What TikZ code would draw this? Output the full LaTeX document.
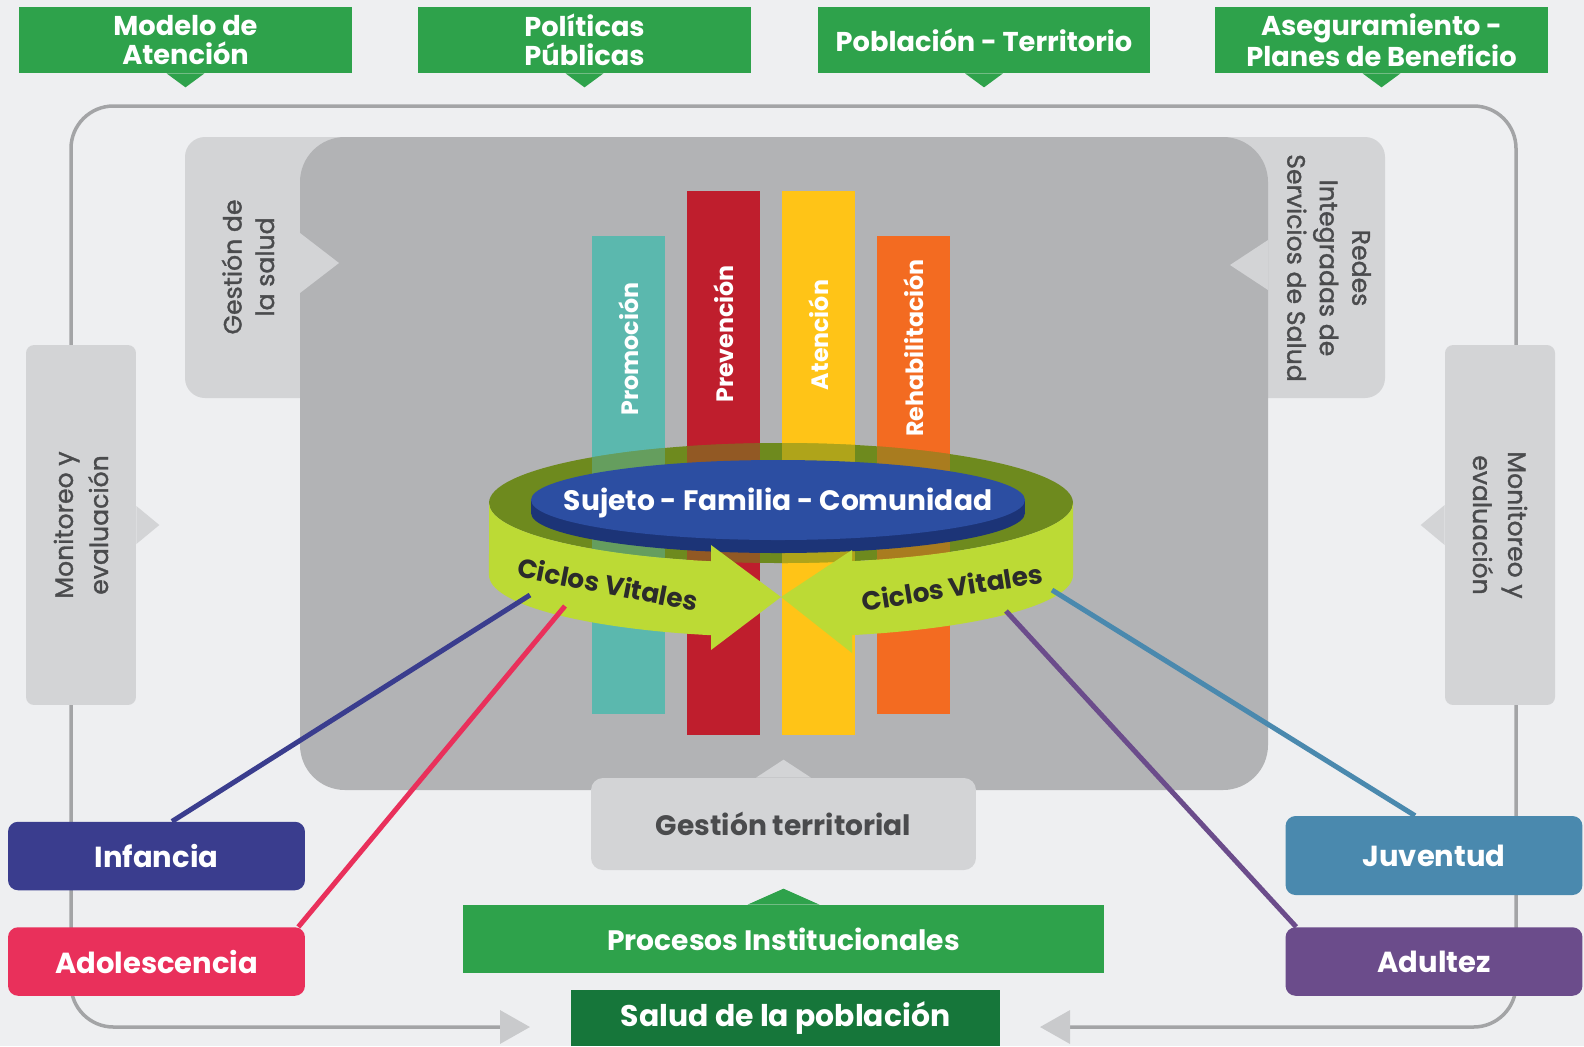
\documentclass[tikz,border=0pt]{standalone}
\usepackage{fontspec}
\setmainfont{Poppins}
\newfontfamily\poppinsmed[FakeBold=1.3]{Poppins}
\usetikzlibrary{arrows.meta}
\begin{document}
\begin{tikzpicture}[x=0.02cm,y=0.02cm,
	topbox/.style={fill=topgreen,text=white,font=\bfseries\fontsize{15.5}{16.5}\selectfont,align=center,minimum width=6.66cm,minimum height=1.32cm,inner sep=0pt},
	sidebox/.style={fill=sidegray,rounded corners=0.16cm,text=textgray,font=\poppinsmed\fontsize{14.3}{20}\selectfont,align=center,inner sep=0pt},
	sidetext/.style={text=textgray,font=\poppinsmed\fontsize{14.3}{18.5}\selectfont,align=center},
	bartext/.style={text=white,font=\bfseries\fontsize{13.5}{15}\selectfont,rotate=90},
	agebox/.style={rounded corners=0.2cm,text=white,font=\bfseries\fontsize{16.5}{18}\selectfont,minimum width=5.94cm,minimum height=1.37cm,inner sep=0pt},
	ageline/.style={line width=0.1cm},
	ciclos/.style={text=ciclostext,font=\bfseries\fontsize{15}{17}\selectfont,inner sep=0pt}]
		\definecolor{bg}{HTML}{EEEFF1}
		\definecolor{topgreen}{HTML}{2EA24B}
		\definecolor{darkgreen}{HTML}{16763A}
		\definecolor{framegray}{HTML}{A3A4A6}
		\definecolor{arrowgray}{HTML}{C9CACC}
		\definecolor{sidegray}{HTML}{D3D4D6}
		\definecolor{boxgray}{HTML}{B2B3B5}
		\definecolor{textgray}{HTML}{4A4B4D}
		\definecolor{teal1}{HTML}{5BB8AE}
		\definecolor{red1}{HTML}{BF1E2D}
		\definecolor{yellow1}{HTML}{FFC417}
		\definecolor{orange1}{HTML}{F36B21}
		\definecolor{olive1}{HTML}{6E8A1E}
		\definecolor{lime1}{HTML}{BCDA35}
		\definecolor{blue1}{HTML}{2C4EA2}
		\definecolor{bluerim}{HTML}{1C3477}
		\definecolor{ciclostext}{HTML}{2B2B2B}
		\definecolor{infancia1}{HTML}{3A3D8E}
		\definecolor{adol1}{HTML}{E9305B}
		\definecolor{juventud1}{HTML}{4A89AE}
		\definecolor{adultez1}{HTML}{6B4C8B}
		\useasboundingbox (0,0) rectangle (1584,-1046);
		\fill[bg] (0,0) rectangle (1584,-1046);
		\node[topbox] (modelo) at (185.5,-40) {Modelo de\\Atención};
		\node[topbox] (politicas) at (584.5,-40) {Políticas\\Públicas};
		\node[topbox] (poblacion) at (984,-40) {Población - Territorio};
		\node[topbox] (aseguramiento) at (1381.5,-40) {Aseguramiento -\\Planes de Beneficio};
		\foreach \n in {modelo,politicas,poblacion,aseguramiento}{
				\fill[topgreen] ([xshift=-0.38cm]\n.south) -- ([xshift=0.38cm]\n.south) -- ([yshift=-0.28cm]\n.south) -- cycle;
			}
		\draw[framegray,line width=0.07cm,rounded corners=0.85cm,{Triangle[length=0.6cm,width=0.66cm,color=arrowgray]}-{Triangle[length=0.6cm,width=0.66cm,color=arrowgray]}]
		(530,-1027) -| (71,-106) -| (1516,-1027) -- (1040,-1027);
		\node[sidebox,rotate=90,minimum width=7.2cm,minimum height=2.2cm] (monitoreoL) at (81,-525) {Monitoreo y\\evaluación};
		\fill[sidegray] ([yshift=0.38cm]monitoreoL.south) -- ([xshift=0.46cm]monitoreoL.south) -- ([yshift=-0.38cm]monitoreoL.south) -- cycle;
		\node[sidebox,rotate=-90,minimum width=7.2cm,minimum height=2.2cm] (monitoreoR) at (1500,-525) {Monitoreo y\\evaluación};
		\fill[sidegray] ([yshift=0.4cm]monitoreoR.south) -- ([xshift=-0.48cm]monitoreoR.south) -- ([yshift=-0.4cm]monitoreoR.south) -- cycle;
		\fill[sidegray,rounded corners=0.4cm] (185,-137) rectangle (360,-398);
		\fill[sidegray,rounded corners=0.4cm] (1210,-137) rectangle (1385,-398);
		\fill[boxgray,rounded corners=0.9cm] (300,-137) rectangle (1268,-790);
		\fill[sidegray] (300,-233) -- (339,-263) -- (300,-293) -- cycle;
		\fill[sidegray] (1268,-240) -- (1230,-265) -- (1268,-290) -- cycle;
		\node[sidetext,rotate=90] (gestionsalud) at (248,-267) {Gestión de\\la salud};
		\node[sidetext,rotate=-90] (redes) at (1329,-268) {Redes\\Integradas de\\Servicios de Salud};
		\foreach \x/\t/\b/\c in {592/236/714/teal1,687/191/735/red1,782/191/735/yellow1,877/236/714/orange1}{
				\fill[\c] (\x,-\t) rectangle ++(73,\t-\b);
			}
		\node[bartext] (promocion) at (628.5,-349) {Promoción};
		\node[bartext] (prevencion) at (723.5,-334) {Prevención};
		\node[bartext] (atencion) at (818.5,-335) {Atención};
		\node[bartext] (rehabilitacion) at (913.5,-348) {Rehabilitación};
		\fill[olive1] (781,-503) ellipse [x radius=292,y radius=60];
		\begin{scope}
			\clip (781,-503) ellipse [x radius=292,y radius=60];
			\foreach \x/\c in {592/teal1,687/red1,782/yellow1,877/orange1}{
					\fill[\c,opacity=0.45] (\x,-180) rectangle ++(73,-400);
				}
		\end{scope}
		\fill[bluerim] (778,-513) ellipse [x radius=247,y radius=40];
		\fill[bluerim] (531,-500) rectangle (1025,-513);
		\fill[blue1] (778,-500) ellipse [x radius=247,y radius=40];
		\node[text=white,font=\bfseries\fontsize{16}{18}\selectfont,inner sep=0pt] (sujeto) at (778,-503) {Sujeto - Familia - Comunidad};
		\fill[lime1] (489,-503) arc[start angle=180,end angle=256.13,x radius=292,y radius=60]
		-- (711,-545) -- (781,-597) -- (711,-650) -- (711,-635.2)
		arc[start angle=256.13,end angle=180,x radius=292,y radius=62] -- cycle;
		\fill[lime1] (1073,-503) arc[start angle=360,end angle=284.07,x radius=292,y radius=60]
		-- (852,-550) -- (781,-597) -- (852,-653) -- (852,-635.1)
		arc[start angle=284.07,end angle=360,x radius=292,y radius=62] -- cycle;
		\node[ciclos,rotate=-11] (ciclosL) at (608,-584) {Ciclos Vitales};
		\node[ciclos,rotate=9] (ciclosR) at (952,-587) {Ciclos Vitales};
		\coordinate (ringInf) at (530,-595);
		\coordinate (ringAdo) at (565,-606);
		\coordinate (ringJuv) at (1052,-590);
		\coordinate (ringAdu) at (1006,-611);
		\node[agebox,fill=infancia1] (infancia) at (156.5,-856) {Infancia};
		\node[agebox,fill=adol1] (adolescencia) at (156.5,-961.5) {Adolescencia};
		\node[agebox,fill=juventud1,minimum height=1.58cm] (juventud) at (1434,-855.5) {Juventud};
		\node[agebox,fill=adultez1] (adultez) at (1434,-961.5) {Adultez};
		\draw[ageline,infancia1] ([xshift=0.31cm]infancia.north) -- (ringInf);
		\draw[ageline,adol1] ([xshift=-0.14cm]adolescencia.north east) -- (ringAdo);
		\draw[ageline,juventud1] ([xshift=-0.38cm]juventud.north) -- (ringJuv);
		\draw[ageline,adultez1] ([xshift=0.22cm]adultez.north west) -- (ringAdu);
		\node[fill=sidegray,rounded corners=0.24cm,text=textgray,font=\bfseries\fontsize{16}{18}\selectfont,minimum width=7.7cm,minimum height=1.84cm] (gestionterr) at (783.5,-824) {Gestión territorial};
		\fill[sidegray] ([xshift=-0.55cm]gestionterr.north) -- ([yshift=0.36cm]gestionterr.north) -- ([xshift=0.55cm]gestionterr.north) -- cycle;
		\node[fill=topgreen,text=white,font=\bfseries\fontsize{16}{18}\selectfont,minimum width=12.82cm,minimum height=1.36cm] (procesos) at (783.5,-939) {Procesos Institucionales};
		\fill[topgreen] ([xshift=-0.72cm]procesos.north) -- ([yshift=0.32cm]procesos.north) -- ([xshift=0.72cm]procesos.north) -- cycle;
		\node[fill=darkgreen,text=white,font=\bfseries\fontsize{17}{19}\selectfont,minimum width=8.58cm,minimum height=1.12cm] (salud) at (785.5,-1018) {Salud de la población};
	\end{tikzpicture}
\end{document}
